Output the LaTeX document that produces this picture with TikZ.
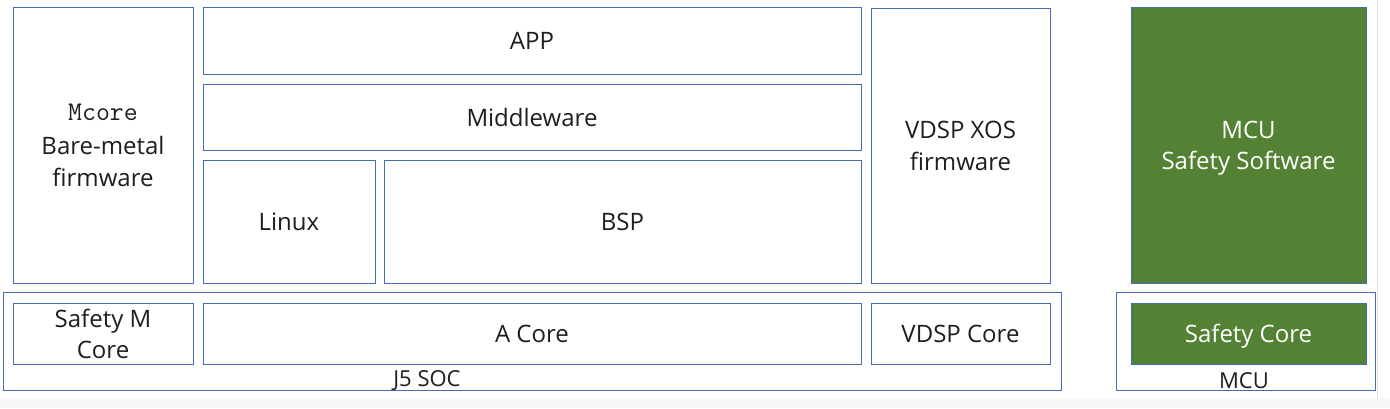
\documentclass[tikz,border=0pt]{standalone}
\usepackage{fontspec}
\setmainfont{Open Sans}
\definecolor{boxblue}{RGB}{68,106,180}
\definecolor{safegreen}{RGB}{84,130,53}
\definecolor{txtgray}{RGB}{30,30,30}
\begin{document}
\begin{tikzpicture}[x=1pt, y=-1pt]
    % Stili
    \tikzstyle{layer}=[rectangle, draw=boxblue, line width=0.9pt, fill=white, text=txtgray, align=center, inner sep=0pt, font=\fontsize{24pt}{31pt}\selectfont]
    \tikzstyle{oneline}=[execute at begin node={\rule{0pt}{24pt}}, execute at end node={\rule[-6pt]{0pt}{0pt}}]
    \tikzstyle{safety}=[layer, fill=safegreen, text=white]
    \tikzstyle{frame}=[rectangle, draw=boxblue, line width=0.9pt, inner sep=0pt]
    \tikzstyle{caption}=[text=txtgray, inner sep=0pt, font=\fontsize{22pt}{26pt}\selectfont]
    % Sfondo e margini
    \useasboundingbox (0,0) rectangle (1390,408);
    \fill[white] (0,0) rectangle (1390,408);
    \fill[gray!6] (0,398) rectangle (1390,408);
    \draw[gray!25, line width=1.5pt] (1377.5,0) -- (1377.5,399);
    % Contenitori
    \node[frame, minimum width=1058pt, minimum height=98pt] (soc) at (532,341) {};
    \node[frame, minimum width=259pt, minimum height=98pt] (mcubox) at (1245.5,341) {};
    \node[caption] (soclabel) at (427,381) {J5 SOC};
    \node[caption] (mculabel) at (1244,381) {MCU};
    % Software
    \node[layer, minimum width=180pt, minimum height=276pt] (mcore) at (103,145) {{\ttfamily\fontsize{27pt}{31pt}\selectfont Mcore}\\[3pt]Bare-metal\\[1pt]firmware};
    \node[layer, oneline, minimum width=658pt, minimum height=67pt] (app) at (532,40.5) {APP};
    \node[layer, oneline, minimum width=658pt, minimum height=66pt] (middleware) at (532,117) {Middleware};
    \node[layer, oneline, minimum width=172pt, minimum height=123pt] (linux) at (289,221.5) {Linux};
    \node[layer, oneline, minimum width=477pt, minimum height=123pt] (bsp) at (622.5,221.5) {BSP};
    \node[layer, minimum width=179pt, minimum height=275pt] (vdspxos) at (960.5,145.5) {VDSP XOS\\[1pt]firmware};
    \node[safety, minimum width=235pt, minimum height=276pt] (mcusw) at (1248.5,145) {\rule{0pt}{24pt}MCU\\Safety Software};
    % Core
    \node[layer, minimum width=180pt, minimum height=61pt] (safetym) at (103,333.5) {Safety M\\Core};
    \node[layer, oneline, minimum width=658pt, minimum height=61pt] (acore) at (532,333.5) {A Core};
    \node[layer, oneline, minimum width=179pt, minimum height=61pt] (vdspcore) at (960.5,333.5) {VDSP Core};
    \node[safety, oneline, minimum width=235pt, minimum height=61pt] (safetycore) at (1248.5,333.5) {Safety Core};
\end{tikzpicture}
\end{document}
